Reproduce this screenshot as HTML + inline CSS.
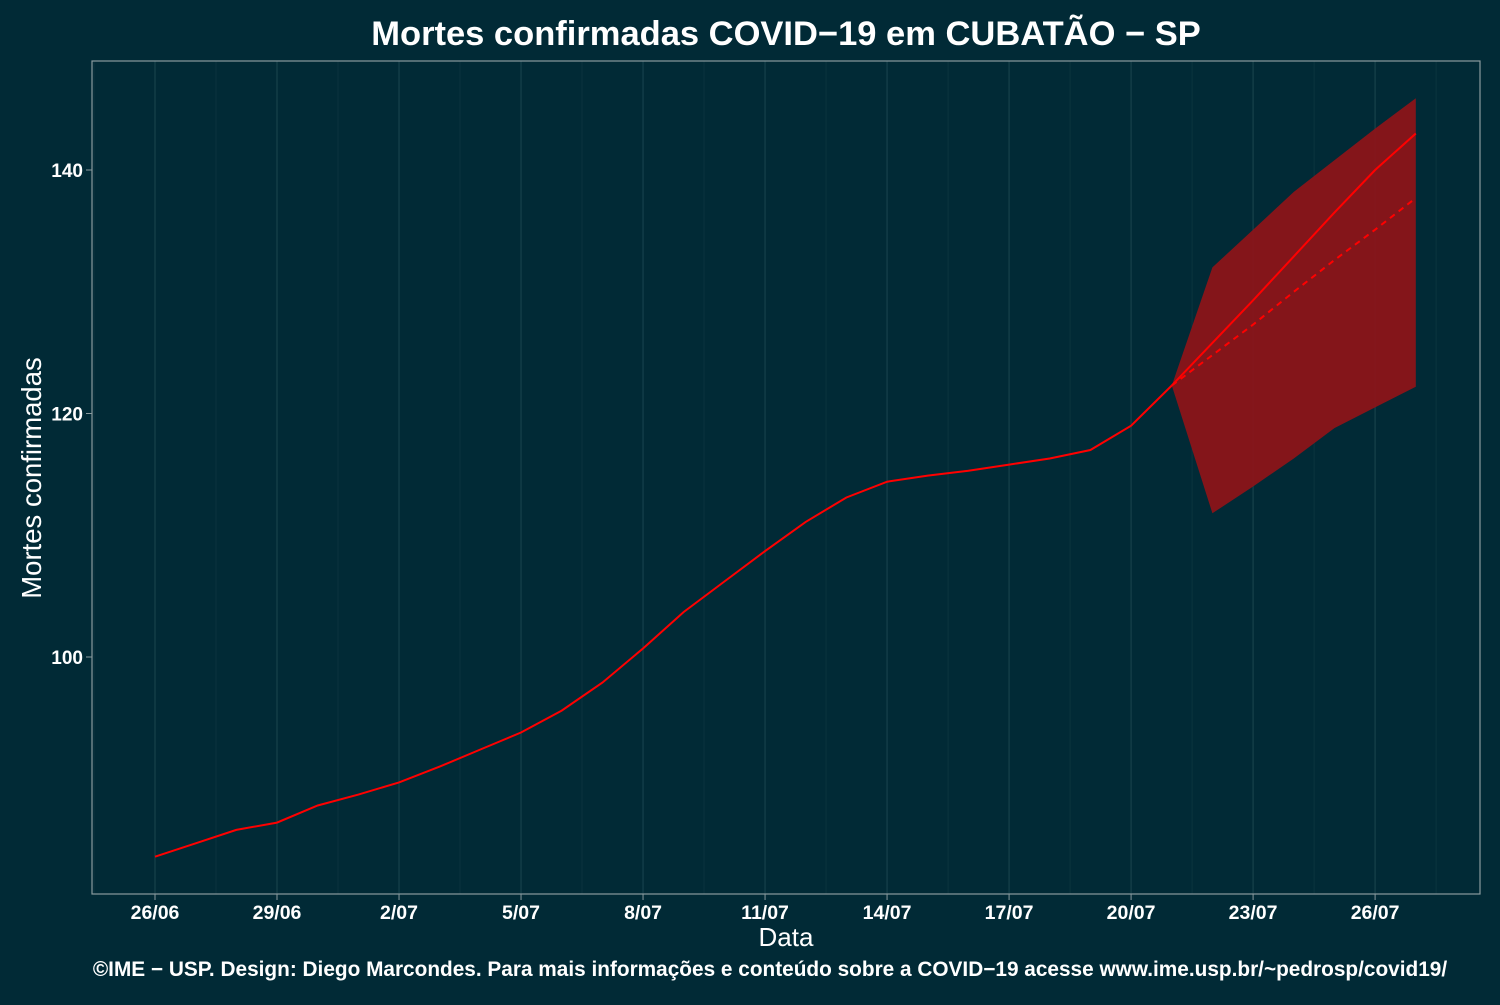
<!DOCTYPE html>
<html><head><meta charset="utf-8"><style>
body{margin:0;background:#012a36;}
svg text{font-family:"Liberation Sans",sans-serif;fill:#fff;}
</style></head><body>
<svg id="c" width="1500" height="1000" xmlns="http://www.w3.org/2000/svg">
<rect width="1500" height="1000" fill="#012a36"/>
<g id="grid"></g>
<path id="band" fill="#8b1419" opacity="0.95"/>
<path id="obs" fill="none" stroke="#ff0000" stroke-width="2"/>
<path id="fsolid" fill="none" stroke="#ff0000" stroke-width="2"/>
<path id="fdash" fill="none" stroke="#ff0000" stroke-width="2" stroke-dasharray="6,5"/>
<rect x="92" y="61" width="1388" height="833" fill="none" stroke="#8a9a9e" stroke-width="1.2"/>
<g id="ticks"></g>
<text x="786" y="45" text-anchor="middle" font-size="34.5" font-weight="bold">Mortes confirmadas COVID−19 em CUBATÃO − SP</text>
<text x="786" y="946" text-anchor="middle" font-size="26">Data</text>
<text transform="translate(41,478) rotate(-90)" text-anchor="middle" font-size="27.5">Mortes confirmadas</text>
<text x="770" y="976" text-anchor="middle" font-size="20.8" font-weight="bold">©IME − USP. Design: Diego Marcondes. Para mais informações e conteúdo sobre a COVID−19 acesse www.ime.usp.br/~pedrosp/covid19/</text>
</svg>
<script>
const obsDays=[0,1,2,3,4,5,6,7,8,9,10,11,12,13,14,15,16,17,18,19,20,21,22,23,24,25];
const obsVals=[83.6,84.7,85.8,86.4,87.8,88.7,89.7,91.0,92.4,93.8,95.6,97.9,100.7,103.7,106.2,108.7,111.1,113.1,114.4,114.9,115.3,115.8,116.3,117.0,119.0,122.3];
const fcDays=[25,26,27,28,29,30,31];
const fcSolid=[122.3,125.8,129.3,132.9,136.5,140.0,143.0];
const fcDashed=[122.3,124.8,127.3,130.0,132.6,135.1,137.7];
const fcUpper=[122.3,132.0,135.1,138.2,140.8,143.4,145.9];
const fcLower=[122.3,111.8,114.0,116.3,118.8,120.5,122.2];
const xTickDays=[0,3,6,9,12,15,18,21,24,27,30];
const xTickLabels=["26/06","29/06","2/07","5/07","8/07","11/07","14/07","17/07","20/07","23/07","26/07"];
const yTicks=[100,120,140];
const X=d=>155+d*40.67, Y=v=>657-(v-100)*12.175;
const ln=(ds,vs)=>ds.map((d,i)=>(i?'L':'M')+X(d).toFixed(1)+','+Y(vs[i]).toFixed(1)).join('');
const NS='http://www.w3.org/2000/svg';
document.getElementById('obs').setAttribute('d',ln(obsDays,obsVals));
document.getElementById('fsolid').setAttribute('d',ln(fcDays,fcSolid));
document.getElementById('fdash').setAttribute('d',ln(fcDays,fcDashed));
document.getElementById('band').setAttribute('d',ln(fcDays,fcUpper)+ln(fcDays.slice().reverse(),fcLower.slice().reverse()).replace('M','L')+'Z');
const g=document.getElementById('grid'),t=document.getElementById('ticks');
for(let d=-1.5;d<=32;d+=1.5){const x=X(d);if(x<93||x>1479)continue;
 const l=document.createElementNS(NS,'line');
 
 
 l.setAttribute('x1',x);l.setAttribute('x2',x);l.setAttribute('y1',61);l.setAttribute('y2',894);
 l.setAttribute('stroke',d%3===0?'#17414b':'#0e3641');l.setAttribute('stroke-width',d%3===0?1.2:0.8);g.appendChild(l);}
xTickDays.forEach((d,i)=>{const x=X(d);
 const k=document.createElementNS(NS,'line');
 
 
 k.setAttribute('x1',x);k.setAttribute('x2',x);k.setAttribute('y1',894);k.setAttribute('y2',900);k.setAttribute('stroke','#8a9a9e');t.appendChild(k);
 const tx=document.createElementNS(NS,'text');
 
 
 tx.setAttribute('x',x);tx.setAttribute('y',919);tx.setAttribute('text-anchor','middle');tx.setAttribute('font-size','19.5');tx.setAttribute('font-weight','bold');tx.textContent=xTickLabels[i];t.appendChild(tx);});
yTicks.forEach(v=>{const y=Y(v);
 const k=document.createElementNS(NS,'line');
 
 
 k.setAttribute('x1',86);k.setAttribute('x2',92);k.setAttribute('y1',y);k.setAttribute('y2',y);k.setAttribute('stroke','#8a9a9e');t.appendChild(k);
 const tx=document.createElementNS(NS,'text');
 
 
 tx.setAttribute('x',83);tx.setAttribute('y',y+7);tx.setAttribute('text-anchor','end');tx.setAttribute('font-size','19');tx.setAttribute('font-weight','bold');tx.textContent=v;t.appendChild(tx);});
</script>
</body></html>
